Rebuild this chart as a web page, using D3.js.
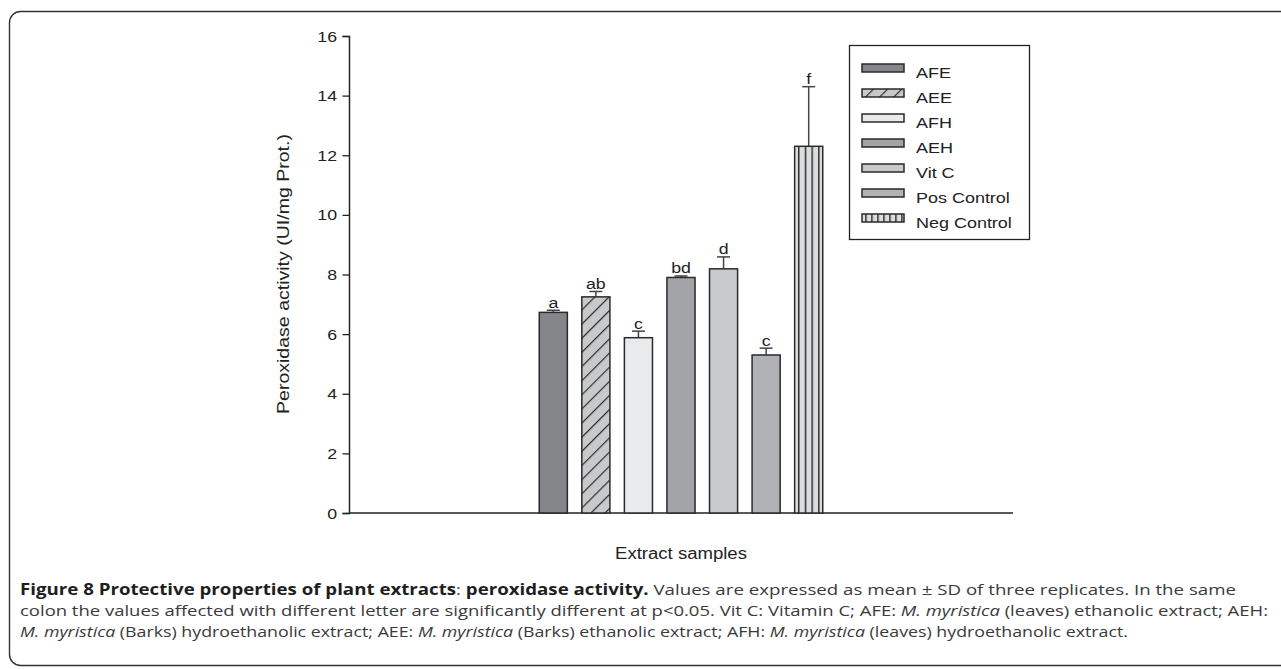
<!DOCTYPE html>
<html lang="en">
  <head>
    <meta charset="UTF-8" />
    <title>Peroxidase activity</title>
    <script src="https://d3js.org/d3.v7.min.js"></script>
    <style>
      html,
      body {
        margin: 0;
        padding: 0;
        background: #ffffff;
      }
      svg {
        display: block;
      }
      .chart-text {
        font-family: "Liberation Sans", Arial, sans-serif;
        fill: #222;
      }
      .caption {
        font-family: "Open Sans", sans-serif;
        fill: #3a3a3a;
        font-size: 15.2px;
      }
    </style>
  </head>
  <body>
    <div id="viz"></div>
    <script>
      // chart data
      const categories = ["AFE", "AEE", "AFH", "AEH", "Vit C", "Pos Control", "Neg Control"];
      const values = [6.73, 7.25, 5.88, 7.9, 8.19, 5.3, 12.3];
      const errors = [0.07, 0.18, 0.22, 0.05, 0.4, 0.23, 2.0];
      const letters = ["a", "ab", "c", "bd", "d", "c", "f"];
      const yTicks = [0, 2, 4, 6, 8, 10, 12, 14, 16];
      const fills = ["#85868a", "url(#hatch)", "#e9eaec", "#a3a4a7", "#c8c9cb", "#b1b2b5", "url(#vlines)"];
      const legendFills = ["#85868a", "url(#hatch)", "#e9eaec", "#a3a4a7", "#c8c9cb", "#b1b2b5", "url(#vlinesLegend)"];

      const W = 1281, H = 669;
      const SX = 1.16; // the figure text is a bit wide
      const plot = { left: 349, right: 1013, top: 36, bottom: 513 };

      const svg = d3.select("#viz").append("svg").attr("width", W).attr("height", H);

      // frame round the figure
      svg.append("rect")
        .attr("x", 9.5).attr("y", 11.5)
        .attr("width", 1320).attr("height", 654)
        .attr("rx", 11).attr("ry", 11)
        .attr("fill", "none").attr("stroke", "#333").attr("stroke-width", 1.4);

      const x = d3.scaleBand()
        .domain(categories)
        .range([plot.left, plot.right])
        .paddingInner(0.34)
        .paddingOuter(4.47);

      const y = d3.scaleLinear().domain([0, 16]).range([plot.bottom, plot.top]);

      // patterns
      const defs = svg.append("defs");
      const hatch = defs.append("pattern")
        .attr("id", "hatch")
        .attr("patternUnits", "userSpaceOnUse")
        .attr("width", 10).attr("height", 10)
        .attr("patternTransform", "rotate(45)");
      hatch.append("rect").attr("width", 10).attr("height", 10).attr("fill", "#c8c9cb");
      hatch.append("line").attr("x1", 0).attr("y1", 0).attr("x2", 0).attr("y2", 10)
        .attr("stroke", "#2a2a2a").attr("stroke-width", 2.4);

      function vlinePattern(id, x0, step) {
        const p = defs.append("pattern")
          .attr("id", id)
          .attr("patternUnits", "userSpaceOnUse")
          .attr("x", x0).attr("y", 0)
          .attr("width", step).attr("height", 10);
        p.append("rect").attr("width", step).attr("height", 10).attr("fill", "#dcdddf");
        p.append("line").attr("x1", 0.7).attr("y1", 0).attr("x2", 0.7).attr("y2", 10)
          .attr("stroke", "#2a2a2a").attr("stroke-width", 1.5);
      }
      vlinePattern("vlines", x("Neg Control") + 3.4, 6.7);

      // stretched text helper
      function stext(parent, px, py, str, size, anchor) {
        return parent.append("g")
          .attr("transform", `translate(${px},${py}) scale(${SX},1)`)
          .append("text")
          .attr("class", "chart-text")
          .attr("font-size", size)
          .attr("text-anchor", anchor || "middle")
          .text(str);
      }

      // y axis
      const yAxis = svg.append("g")
        .attr("transform", `translate(${plot.left},0)`)
        .call(d3.axisLeft(y).tickValues(yTicks).tickSize(6.5).tickFormat(""));
      yAxis.select(".domain").attr("stroke", "#222").attr("stroke-width", 1.5);
      yAxis.selectAll(".tick line").attr("stroke", "#222").attr("stroke-width", 1.3);
      yTicks.forEach((t) => {
        stext(svg, plot.left - 12, y(t) + 5.5, String(t), 15.3, "end");
      });

      // x axis line
      svg.append("line")
        .attr("x1", plot.left).attr("x2", plot.right)
        .attr("y1", y(0)).attr("y2", y(0))
        .attr("stroke", "#222").attr("stroke-width", 1.5);

      // error bars (drawn under bars)
      const eb = svg.append("g").attr("stroke", "#444").attr("stroke-width", 1.5);
      categories.forEach((c, i) => {
        const cx = x(c) + x.bandwidth() / 2;
        eb.append("line")
          .attr("x1", cx).attr("x2", cx)
          .attr("y1", y(values[i])).attr("y2", y(values[i] + errors[i]));
        eb.append("line")
          .attr("x1", cx - 6.5).attr("x2", cx + 6.5)
          .attr("y1", y(values[i] + errors[i])).attr("y2", y(values[i] + errors[i]));
      });

      // bars
      svg.append("g")
        .selectAll("rect")
        .data(categories)
        .join("rect")
        .attr("x", (d) => x(d))
        .attr("y", (d, i) => y(values[i]))
        .attr("width", x.bandwidth())
        .attr("height", (d, i) => y(0) - y(values[i]))
        .attr("fill", (d, i) => fills[i])
        .attr("stroke", "#2a2a2a")
        .attr("stroke-width", 1.5);

      // significance letters
      categories.forEach((c, i) => {
        stext(svg, x(c) + x.bandwidth() / 2, y(values[i] + errors[i]) - 2.5, letters[i], 15.3);
      });

      // axis titles
      stext(svg, (plot.left + plot.right) / 2, 559, "Extract samples", 16);
      svg.append("text")
        .attr("class", "chart-text")
        .attr("font-size", 17)
        .attr("text-anchor", "middle")
        .attr("transform", `translate(289,274) rotate(-90) scale(1.15,1)`)
        .text("Peroxidase activity (UI/mg Prot.)");

      // legend
      const lg = { x: 849.5, y: 45.5, w: 180, h: 194, row: 25 };
      vlinePattern("vlinesLegend", lg.x + 12.5 + 3.2, 6);
      svg.append("rect")
        .attr("x", lg.x).attr("y", lg.y).attr("width", lg.w).attr("height", lg.h)
        .attr("fill", "#fff").attr("stroke", "#222").attr("stroke-width", 1.3);
      categories.forEach((c, i) => {
        const ry = lg.y + 18.5 + i * lg.row;
        svg.append("rect")
          .attr("x", lg.x + 12.5).attr("y", ry)
          .attr("width", 42).attr("height", 8)
          .attr("fill", legendFills[i])
          .attr("stroke", "#2a2a2a").attr("stroke-width", 1.5);
        stext(svg, lg.x + 66.5, ry + 13.7, c, 15.5, "start");
      });

      // caption
      const captionLines = [
        [
          { t: "Figure 8 Protective properties of plant extracts", w: "bold" },
          { t: ": " },
          { t: "peroxidase activity.", w: "bold" },
          { t: " Values are expressed as mean \u00b1 SD of three replicates. In the same" },
        ],
        [
          { t: "colon the values affected with different letter are significantly different at p<0.05. Vit C: Vitamin C; AFE: " },
          { t: "M. myristica", i: true },
          { t: " (leaves) ethanolic extract; AEH:" },
        ],
        [
          { t: "M. myristica", i: true },
          { t: " (Barks) hydroethanolic extract; AEE: " },
          { t: "M. myristica", i: true },
          { t: " (Barks) ethanolic extract; AFH: " },
          { t: "M. myristica", i: true },
          { t: " (leaves) hydroethanolic extract." },
        ],
      ];
      const capBase = [595, 616, 637];
      const capWidth = [1216, 1248, 1108];
      captionLines.forEach((parts, li) => {
        const tx = svg.append("text")
          .attr("class", "caption")
          .attr("x", 20)
          .attr("y", capBase[li])
          .attr("textLength", capWidth[li])
          .attr("lengthAdjust", "spacingAndGlyphs");
        parts.forEach((p) => {
          tx.append("tspan")
            .attr("font-weight", p.w || null)
            .attr("font-style", p.i ? "italic" : null)
            .attr("fill", p.w ? "#1e1e1e" : null)
            .text(p.t);
        });
      });
    </script>
  </body>
</html>
